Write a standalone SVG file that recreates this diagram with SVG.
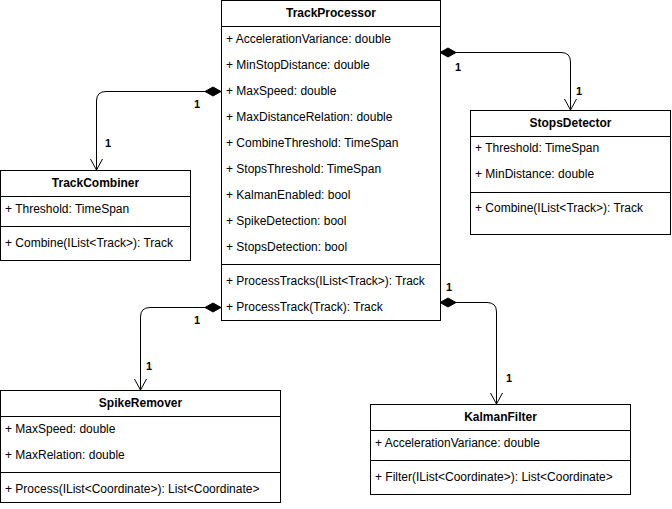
<svg xmlns="http://www.w3.org/2000/svg" width="672" height="509" viewBox="0 0 672 509">
<style>
.box{fill:#fff;stroke:#000;stroke-width:1}
.ln{stroke:#000;stroke-width:1}
.t{font-family:"Liberation Sans",Arial,sans-serif;font-size:12px;fill:#000}
.h{font-family:"Liberation Sans",Arial,sans-serif;font-size:12px;font-weight:bold;fill:#000;text-anchor:middle}
.m{font-family:"Liberation Sans",Arial,sans-serif;font-size:11px;font-weight:bold;fill:#000}
.c{fill:none;stroke:#000;stroke-width:1}
</style>
<defs>
<marker id="dia" markerUnits="userSpaceOnUse" markerWidth="20" markerHeight="12" refX="0" refY="6" orient="auto" overflow="visible">
<path d="M0,6 L8,1.5 L16,6 L8,10.5 Z" fill="#000" stroke="#000" stroke-width="1"/>
</marker>
<marker id="arr" markerUnits="userSpaceOnUse" markerWidth="14" markerHeight="14" refX="12" refY="7" orient="auto" overflow="visible">
<path d="M1,1 L12,7 L1,13" fill="none" stroke="#000" stroke-width="1"/>
</marker>
</defs>
<g id="connectors">
<path class="c" d="M221,91.5 H106 Q96.5,91.5 96.5,101 V170" marker-start="url(#dia)" marker-end="url(#arr)"/>
<path class="c" d="M440,52.5 H561 Q570.5,52.5 570.5,62 V110" marker-start="url(#dia)" marker-end="url(#arr)"/>
<path class="c" d="M221,307.5 H150 Q140.5,307.5 140.5,317 V390" marker-start="url(#dia)" marker-end="url(#arr)"/>
<path class="c" d="M440,302.5 H487 Q496.5,302.5 496.5,312 V404" marker-start="url(#dia)" marker-end="url(#arr)"/>
<text class="m" x="194" y="108">1</text>
<text class="m" x="105" y="147">1</text>
<text class="m" x="455" y="71">1</text>
<text class="m" x="576" y="95">1</text>
<text class="m" x="194" y="324">1</text>
<text class="m" x="146" y="370">1</text>
<text class="m" x="446" y="291">1</text>
<text class="m" x="506" y="382">1</text>
</g>
<g id="TrackProcessor">
<rect class="box" x="221.5" y="0.5" width="219" height="320"/>
<line class="ln" x1="221.5" y1="26.5" x2="440.5" y2="26.5"/>
<line class="ln" x1="221.5" y1="264.5" x2="440.5" y2="264.5"/>
<text class="h" x="331" y="17">TrackProcessor</text>
<text class="t" x="226" y="43">+ AccelerationVariance: double</text>
<text class="t" x="226" y="69">+ MinStopDistance: double</text>
<text class="t" x="226" y="95">+ MaxSpeed: double</text>
<text class="t" x="226" y="121">+ MaxDistanceRelation: double</text>
<text class="t" x="226" y="147">+ CombineThreshold: TimeSpan</text>
<text class="t" x="226" y="173">+ StopsThreshold: TimeSpan</text>
<text class="t" x="226" y="199">+ KalmanEnabled: bool</text>
<text class="t" x="226" y="225">+ SpikeDetection: bool</text>
<text class="t" x="226" y="251">+ StopsDetection: bool</text>
<text class="t" x="226" y="285">+ ProcessTracks(IList&lt;Track&gt;): Track</text>
<text class="t" x="226" y="311">+ ProcessTrack(Track): Track</text>
</g>
<g id="TrackCombiner">
<rect class="box" x="0.5" y="170.5" width="190" height="90"/>
<line class="ln" x1="0.5" y1="196.5" x2="190.5" y2="196.5"/>
<line class="ln" x1="0.5" y1="226.5" x2="190.5" y2="226.5"/>
<text class="h" x="95.5" y="187">TrackCombiner</text>
<text class="t" x="5" y="213">+ Threshold: TimeSpan</text>
<text class="t" x="5" y="247">+ Combine(IList&lt;Track&gt;): Track</text>
</g>
<g id="StopsDetector">
<rect class="box" x="470.5" y="110.5" width="200" height="124"/>
<line class="ln" x1="470.5" y1="136.5" x2="670.5" y2="136.5"/>
<line class="ln" x1="470.5" y1="192.5" x2="670.5" y2="192.5"/>
<text class="h" x="570.5" y="127">StopsDetector</text>
<text class="t" x="475" y="152">+ Threshold: TimeSpan</text>
<text class="t" x="475" y="178">+ MinDistance: double</text>
<text class="t" x="475" y="212">+ Combine(IList&lt;Track&gt;): Track</text>
</g>
<g id="SpikeRemover">
<rect class="box" x="0.5" y="390.5" width="280" height="112"/>
<line class="ln" x1="0.5" y1="416.5" x2="280.5" y2="416.5"/>
<line class="ln" x1="0.5" y1="472.5" x2="280.5" y2="472.5"/>
<text class="h" x="140.5" y="407">SpikeRemover</text>
<text class="t" x="5" y="433">+ MaxSpeed: double</text>
<text class="t" x="5" y="459">+ MaxRelation: double</text>
<text class="t" x="5" y="493">+ Process(IList&lt;Coordinate&gt;): List&lt;Coordinate&gt;</text>
</g>
<g id="KalmanFilter">
<rect class="box" x="370.5" y="404.5" width="260" height="90"/>
<line class="ln" x1="370.5" y1="430.5" x2="630.5" y2="430.5"/>
<line class="ln" x1="370.5" y1="460.5" x2="630.5" y2="460.5"/>
<text class="h" x="500.5" y="421">KalmanFilter</text>
<text class="t" x="375" y="447">+ AccelerationVariance: double</text>
<text class="t" x="375" y="481">+ Filter(IList&lt;Coordinate&gt;): List&lt;Coordinate&gt;</text>
</g>
</svg>
